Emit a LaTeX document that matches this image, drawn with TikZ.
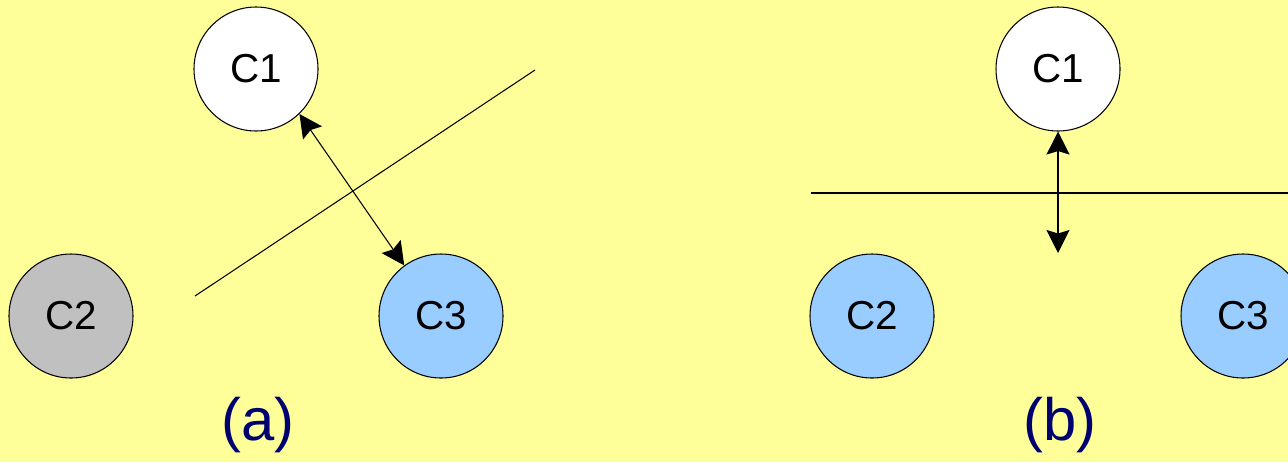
\documentclass[tikz,border=0pt]{standalone}
\usepackage{fontspec}
\setmainfont{Liberation Sans}
\usetikzlibrary{arrows.meta}
\definecolor{paper}{HTML}{FFFF99}
\definecolor{skyfill}{HTML}{99CCFF}
\definecolor{greyfill}{HTML}{C0C0C0}
\definecolor{navy}{HTML}{000070}
\tikzset{
  cluster/.style={circle, draw=black, line width=0.6pt, minimum size=24.8mm, inner sep=0pt,
    font=\fontsize{23}{26}\selectfont},
  split/.style={draw=black, line width=0.6pt},
  link/.style={draw=black, line width=0.6pt,
    {Stealth[length=4.6mm, width=4.6mm, inset=0.7mm]}-{Stealth[length=4.6mm, width=4.6mm, inset=0.7mm]}},
  caption/.style={text=navy, font=\fontsize{34}{40}\selectfont},
}
\begin{document}
\begin{tikzpicture}[x=0.2mm, y=-0.2mm]
  \fill[paper] (0,0) rectangle (1288,462);
  \useasboundingbox (0,0) rectangle (1288,462);

  % panel (a)
  \node[cluster, fill=white]     (C1a) at (256,69)  {C1};
  \node[cluster, fill=greyfill]  (C2a) at (71,316)  {C2};
  \node[cluster, fill=skyfill]   (C3a) at (441,316) {C3};
  \coordinate (sa1) at (195,296);
  \coordinate (sa2) at (535,70);
  \draw[split] (sa1) -- (sa2);
  \draw[link] (C1a.-46) -- (C3a.126);
  \node[caption] (capa) at (258,425) {(a)};

  % panel (b)
  \node[cluster, fill=white]   (C1b) at (1058,69)  {C1};
  \node[cluster, fill=skyfill] (C2b) at (872,316)  {C2};
  \node[cluster, fill=skyfill] (C3b) at (1243,316) {C3};
  \coordinate (sb1) at (811,193);
  \coordinate (sb2) at (1288,193);
  \draw[split] (sb1) -- (sb2);
  \coordinate (tipb) at (1058,253);
  \draw[link] (C1b.south) -- (tipb);
  \node[caption] (capb) at (1060,425) {(b)};
\end{tikzpicture}
\end{document}
